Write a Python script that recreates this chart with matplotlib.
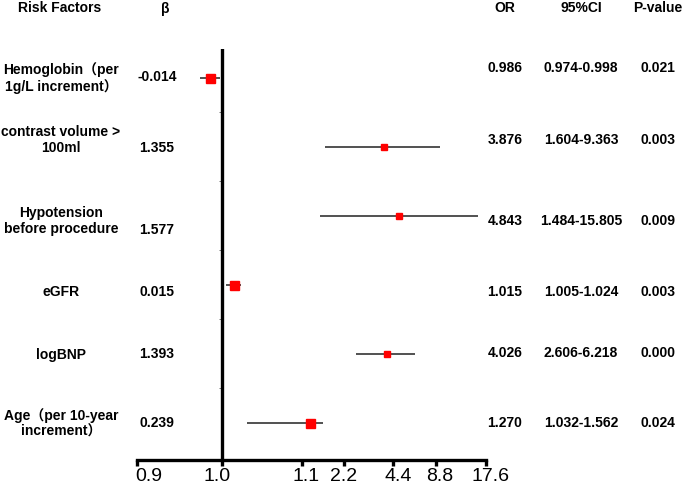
import numpy as np
import matplotlib
matplotlib.use("Agg")
import matplotlib.pyplot as plt
from matplotlib.transforms import ScaledTranslation

# ---------------- data ----------------
factors = ["Hemoglobin（per\n1g/L increment）", "contrast volume >\n100ml",
           "Hypotension\nbefore procedure", "eGFR", "logBNP",
           "Age（per 10-year\nincrement）"]
beta = ["-0.014", "1.355", "1.577", "0.015", "1.393", "0.239"]
odds = [0.986, 3.876, 4.843, 1.015, 4.026, 1.270]
ci_low = [0.974, 1.604, 1.484, 1.005, 2.606, 1.032]
ci_high = [0.998, 9.363, 15.805, 1.024, 6.218, 1.562]
p_values = ["0.021", "0.003", "0.009", "0.003", "0.000", "0.024"]
x_ticks = [0.9, 1.0, 1.1, 2.2, 4.4, 8.8, 17.6]
x_tick_labels = ["0.9", "1.0", "1.1", "2.2", "4.4", "8.8", "17.6"]
headers = ["Risk Factors", "β", "OR", "95%CI", "P-value"]

# ---------------- styles / layout ----------------
W, H = 685, 491
marker_px = [9, 6, 6, 9, 6, 9]
label_shift_px = [12, -5, 4, 0, 5, 3.5, 5]
axis_units = np.array([0, 85, 165, 207.3, 256.6, 299.3, 349.0])  # broken-axis spacing

def g(v):
    v = np.asarray(v, dtype=float)
    return np.where(v <= 1.1, v, 1.1 + np.log2(np.maximum(v, 1e-9) / 1.1) * 0.1)

def g_inv(u):
    u = np.asarray(u, dtype=float)
    return np.where(u <= 1.1, u, 1.1 * 2 ** ((u - 1.1) / 0.1))

gt = g(x_ticks)

def fwd(v):
    return np.interp(g(v), gt, axis_units)

def inv(u):
    return g_inv(np.interp(u, axis_units, gt))

plt.rcParams['font.family'] = ['Liberation Sans', 'Noto Sans CJK SC', 'DejaVu Sans']

fig = plt.figure(figsize=(W / 100, H / 100), dpi=100)
x0, x1, y0, y1 = 136.7, 485.7, 49, 460
ax = fig.add_axes([x0 / W, 1 - y1 / H, (x1 - x0) / W, (y1 - y0) / H])
ax.set_xscale('function', functions=(fwd, inv))
ax.set_xlim(0.9, 17.6)
rows = np.arange(len(factors))
ax.set_ylim(5.54, -0.42)

for s in ['left', 'right', 'top']:
    ax.spines[s].set_visible(False)
ax.spines['bottom'].set_linewidth(2.4)
ax.set_yticks([])
ax.set_xticks(x_ticks)
ax.set_xticklabels(x_tick_labels, fontsize=14)
ax.xaxis.set_minor_locator(matplotlib.ticker.NullLocator())
ax.tick_params(axis='x', direction='out', length=4.5, width=2.4, pad=1)
for lbl, dx in zip(ax.get_xticklabels(), label_shift_px):
    lbl.set_transform(lbl.get_transform() + ScaledTranslation(dx / 100, 0, fig.dpi_scale_trans))

ax.axvline(1.0, color='black', lw=2.4, zorder=2)
mids = rows[:-1] + 0.5
ax.plot([1.0] * len(mids), mids, ls='none', marker=0, ms=2.5, mew=0.7,
        color='#777777', zorder=1)

ax.hlines(rows, ci_low, ci_high, color='#222222', lw=1.1, zorder=3)
for r, o, m in zip(rows, odds, marker_px):
    ax.plot([o], [r], marker='s', ms=m * 0.72, color='#ff0000', mec='#ff0000',
            ls='none', zorder=4)

# ---------------- text table ----------------
def ftext(x, y, s, **kw):
    fig.text(x / W, 1 - y / H, s, ha='center', va='center', fontsize=10,
             fontweight='bold', linespacing=1.15, **kw)

hdr_x = [60, 165, 505, 581, 658]
for hx, h in zip(hdr_x, headers):
    ftext(hx, 8.5, h)

label_y = [78, 140, 221, 291.7, 355, 423.7]
beta_y = [76.7, 147.7, 230, 291.7, 353.7, 423]
stat_y = [68, 140, 220.7, 291.7, 353, 423]
for i in rows:
    ftext(61, label_y[i], factors[i])
    ftext(157, beta_y[i], beta[i])
    ftext(505, stat_y[i], f"{odds[i]:.3f}")
    ftext(581, stat_y[i], f"{ci_low[i]:.3f}-{ci_high[i]:.3f}")
    ftext(658, stat_y[i], p_values[i])

fig.savefig("out.png", dpi=100)
